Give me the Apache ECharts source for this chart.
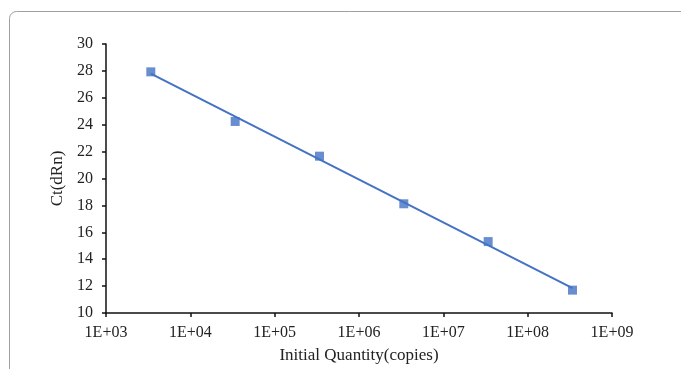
<!DOCTYPE html>
<html>
<head>
<meta charset="utf-8">
<script src="https://cdn.jsdelivr.net/npm/echarts@6/dist/echarts.min.js"></script>
<style>
html,body{margin:0;padding:0;background:#fff;}
#c{width:681px;height:369px;}
</style>
</head>
<body>
<div id="c"></div>
<script>
// Data
var quantities = [3.4e3, 3.4e4, 3.4e5, 3.4e6, 3.4e7, 3.4e8];
var ctValues = [27.93, 24.24, 21.66, 18.12, 15.31, 11.70];
// Trend line endpoints
var trendX = [3.4e3, 3.4e8];
var trendY = [27.8, 11.85];
var xTickLabels = ['1E+03','1E+04','1E+05','1E+06','1E+07','1E+08','1E+09'];
var yTicks = [10, 12, 14, 16, 18, 20, 22, 24, 26, 28, 30];

var points = quantities.map(function (q, i) { return [q, ctValues[i]]; });
var trend = trendX.map(function (q, i) { return [q, trendY[i]]; });

var font = '"Liberation Serif", "Times New Roman", serif';
var blue = '#4472C4';
var chart = echarts.init(document.getElementById('c'));
chart.setOption({
  animation: false,
  backgroundColor: '#fff',
  graphic: [{
    type: 'rect',
    shape: { x: 9.5, y: 11.5, width: 720, height: 420, r: 7 },
    style: { fill: 'none', stroke: '#a0a0a0', lineWidth: 1 },
    silent: true
  }],
  grid: { left: 106, right: 69, top: 44, bottom: 54, containLabel: false },
  xAxis: {
    type: 'log',
    logBase: 10,
    min: 1e3,
    max: 1e9,
    name: 'Initial Quantity(copies)',
    nameLocation: 'middle',
    nameGap: 34,
    nameTextStyle: { fontFamily: font, fontSize: 17, color: '#222' },
    axisLine: { show: true, lineStyle: { color: '#111', width: 1.5 } },
    axisTick: { show: true, inside: false, length: 4, lineStyle: { color: '#111', width: 1.5 } },
    axisLabel: {
      fontFamily: font, fontSize: 16, color: '#222', margin: 12,
      formatter: function (v) {
        var e = Math.round(Math.log10(v));
        return xTickLabels[e - 3] || '';
      }
    },
    splitLine: { show: false },
    minorTick: { show: false }
  },
  yAxis: {
    type: 'value',
    min: 10,
    max: 30,
    interval: 2,
    name: 'Ct(dRn)',
    nameLocation: 'middle',
    nameGap: 35,
    nameRotate: 90,
    nameTextStyle: { fontFamily: font, fontSize: 17, color: '#222' },
    axisLine: { show: true, lineStyle: { color: '#111', width: 1.5 } },
    axisTick: { show: true, inside: false, length: 4, lineStyle: { color: '#111', width: 1.5 } },
    axisLabel: {
      fontFamily: font, fontSize: 16, color: '#222', margin: 13,
      formatter: function (v) { return yTicks.indexOf(v) >= 0 ? String(v) : ''; }
    },
    splitLine: { show: false }
  },
  series: [
    {
      type: 'line',
      data: trend,
      symbol: 'none',
      lineStyle: { color: blue, width: 2 },
      silent: true,
      z: 2
    },
    {
      type: 'scatter',
      data: points,
      symbol: 'rect',
      symbolSize: 9,
      itemStyle: { color: blue },
      z: 3
    }
  ]
});
</script>
</body>
</html>
